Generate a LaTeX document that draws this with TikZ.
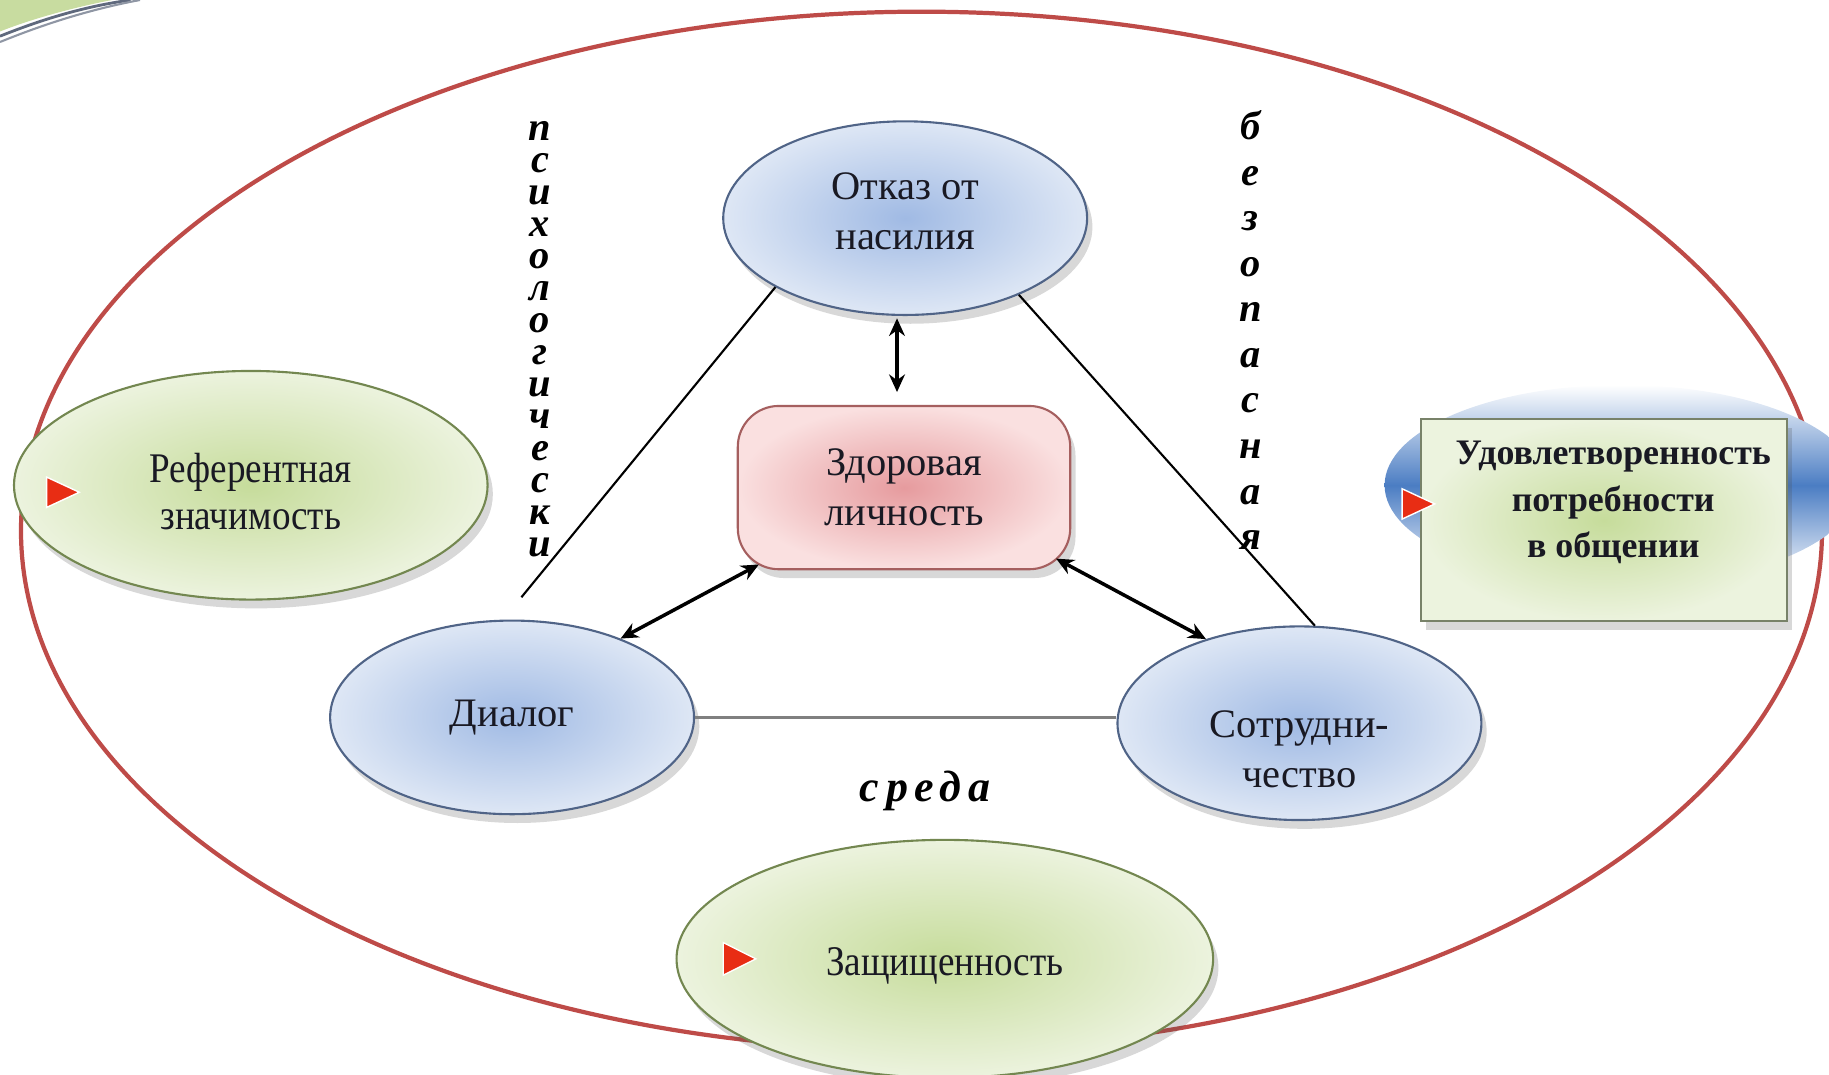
\documentclass[tikz,border=0pt]{standalone}
\usepackage{fontspec}
\setmainfont{Liberation Serif}
\newfontfamily\condfont[FakeStretch=0.88]{Liberation Serif}
\usetikzlibrary{shapes.geometric,arrows.meta,calc,shadows}

\definecolor{redline}{RGB}{190,75,72}
\definecolor{blueIn}{RGB}{160,186,228}
\definecolor{blueOut}{RGB}{222,231,245}
\definecolor{blueEdge}{RGB}{80,100,135}
\definecolor{pinkIn}{RGB}{230,155,158}
\definecolor{pinkOut}{RGB}{250,224,224}
\definecolor{pinkEdge}{RGB}{165,95,95}
\definecolor{greenIn}{RGB}{198,220,155}
\definecolor{greenOut}{RGB}{236,243,222}
\definecolor{greenEdge}{RGB}{115,135,80}
\definecolor{boxEdge}{RGB}{120,130,105}
\definecolor{bandBlue}{RGB}{75,125,195}
\definecolor{bulletRed}{RGB}{232,45,20}
\definecolor{txt}{RGB}{25,25,35}
\definecolor{decoGreen}{RGB}{200,220,160}
\definecolor{decoLine}{RGB}{95,105,125}

\newcommand\px{0.011665cm}

\begin{document}
\begin{tikzpicture}[x=0.011665cm, y=-0.011665cm,
  softshadow/.style={drop shadow={shadow xshift=1.5pt, shadow yshift=-2.5pt, opacity=0.22, fill=black!70}},
  maintxt/.style={text=txt, align=center, font=\fontsize{11.5}{14.2}\selectfont},
  condtxt/.style={text=txt, align=center, font=\condfont\fontsize{12}{13.4}\selectfont},
  boldtxt/.style={text=txt, align=center, font=\bfseries\fontsize{10.2}{13.2}\selectfont},
  envell/.style={ellipse, draw=redline, line width=1.2pt, inner sep=0pt,
     minimum width=1544*\px, minimum height=890*\px},
  blueell/.style={ellipse, draw=blueEdge, line width=0.6pt, inner color=blueIn, outer color=blueOut,
     minimum width=312*\px, minimum height=166*\px, inner sep=0pt, maintxt, softshadow},
  greenell/.style={ellipse, draw=greenEdge, line width=0.6pt, inner color=greenIn, outer color=greenOut,
     minimum width=406*\px, minimum height=196*\px, inner sep=0pt, condtxt, softshadow},
  pinkbox/.style={rectangle, rounded corners=0.41cm, draw=pinkEdge, line width=0.6pt,
     inner color=pinkIn, outer color=pinkOut, minimum width=285*\px, minimum height=140*\px,
     inner sep=0pt, maintxt, softshadow},
  greenbox/.style={rectangle, draw=boxEdge, line width=0.6pt, inner color=greenIn, outer color=greenOut,
     minimum width=314*\px, minimum height=173*\px, inner sep=0pt, softshadow},
  bandell/.style={ellipse, inner sep=0pt, top color=white, bottom color=white, middle color=bandBlue,
     minimum width=406*\px, minimum height=172*\px},
  thinline/.style={draw=black, line width=0.6pt},
  grayline/.style={draw=black!50, line width=1pt},
  dbl/.style={{Stealth[length=5pt,width=4.5pt]}-{Stealth[length=5pt,width=4.5pt]}, line width=1pt, draw=black},
  vertword/.style={text=black, align=center, inner sep=0pt},
  bullet/.style={fill=bulletRed, draw=white, line width=0.4pt}
]
\useasboundingbox (0,0) rectangle (1568,921);
\clip (0,0) rectangle (1568,921);

% corner decoration of the slide template
\fill[decoGreen] (0,0) -- (96,0) .. controls (60,7) and (25,17) .. (0,27) -- cycle;
\draw[decoLine, line width=0.8pt] (0,31) .. controls (30,19) and (68,6) .. (112,0);
\draw[decoLine!70, line width=0.6pt] (0,36) .. controls (32,23) and (72,9) .. (120,0);

% outer environment ellipse
\node[envell] (env) at (790,455) {};

% peripheral elements
\node[greenell, text height=25.5pt] (ref) at (215,416) {Референтная\\значимость};
\node[greenell, text height=11.8pt, minimum width=460*\px, minimum height=204*\px] (zash) at (810,822) {Защищенность};
\node[bandell] (band) at (1390,416) {};
\node[greenbox] (udov) at (1375,446) {};
\node[boldtxt] (udovtxt) at (1383,431) {Удовлетворенность\\потребности\\в общении};

\fill[bullet] (40,409) -- (68,422) -- (40,435) -- cycle;
\fill[bullet] (1202,419) -- (1230,432) -- (1202,445) -- cycle;
\fill[bullet] (620,808) -- (648,822) -- (620,836) -- cycle;

% triangle of the core
\node[blueell, text depth=0.14cm] (otkaz) at (776,187) {Отказ от\\насилия};
\node[pinkbox] (zdor) at (775,418) {Здоровая\\личность};
\node[blueell] (dialog) at (439,615) {Диалог};
\node[blueell] (sotr) at (1114,620) {};
\node[maintxt] (sotrtxt) at (1114,642) {Сотрудни-\\чество};

\coordinate (lend) at (447,512);
\draw[thinline] (otkaz.208) -- (lend);
\draw[thinline] (otkaz.326) -- (sotr.81);
\draw[grayline] (dialog.east) -- (dialog.east -| sotr.west);

\draw[dbl] ($(otkaz.south)+(-7,2)$) -- ($(zdor.north)+(-6,-11)$);
\draw[dbl] ($(zdor.south west)+(19,-5)$) -- (dialog.36);
\draw[dbl] ($(zdor.south east)+(-13,-10)$) -- (sotr.138);

% vertical words and the word under the triangle
\node[vertword, font=\bfseries\itshape\fontsize{11.5}{9.1}\selectfont] (psych) at (463,291)
  {п\\с\\и\\х\\о\\л\\о\\г\\и\\ч\\е\\с\\к\\и};
\node[vertword, font=\bfseries\itshape\fontsize{11.5}{12.95}\selectfont] (bezop) at (1072,283)
  {б\\е\\з\\о\\п\\а\\с\\н\\а\\я};
\node[anchor=base, inner sep=0pt, font=\bfseries\itshape\fontsize{12.5}{14}\selectfont\addfontfeature{LetterSpace=15}] (sreda) at (793,687) {среда};
\end{tikzpicture}
\end{document}
